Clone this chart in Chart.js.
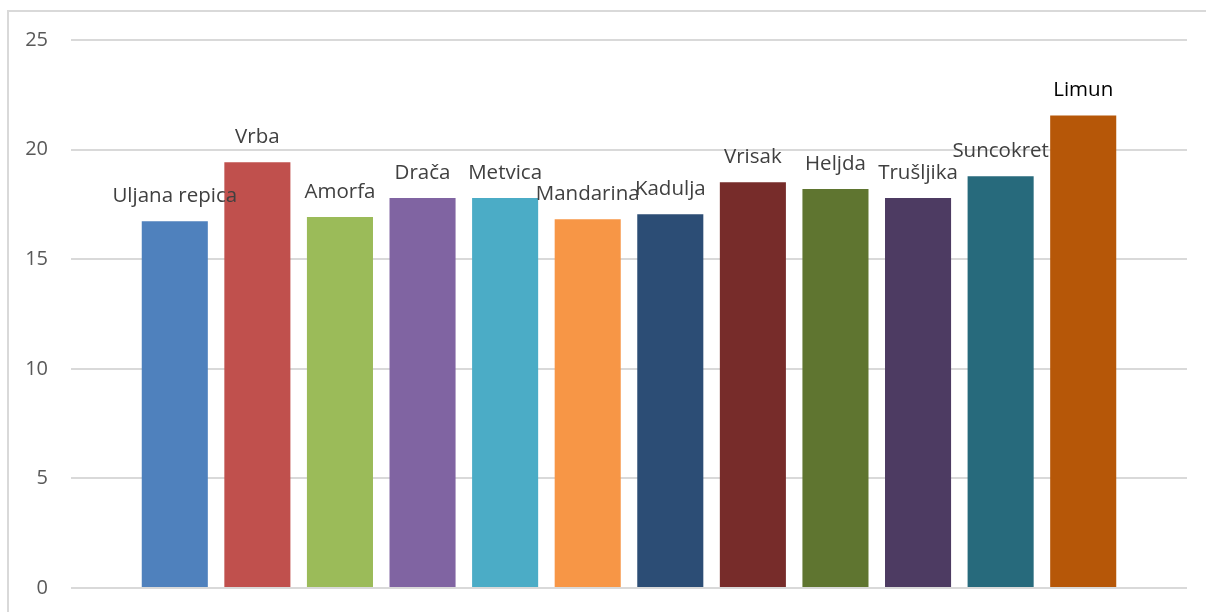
<!DOCTYPE html>
<html>
<head>
<meta charset="utf-8">
<script src="https://cdn.jsdelivr.net/npm/chart.js@4/dist/chart.umd.min.js"></script>
<style>
  html, body { margin: 0; padding: 0; background: #fff; }
  #wrap { width: 1206px; height: 612px; overflow: hidden; }
</style>
</head>
<body>
<div id="wrap"><canvas id="chart" width="1206" height="623"></canvas></div>
<script>
// --- data ---
var plants = ['Uljana repica', 'Vrba', 'Amorfa', 'Drača', 'Metvica', 'Mandarina',
              'Kadulja', 'Vrisak', 'Heljda', 'Trušljika', 'Suncokret', 'Limun'];
var values = [16.73, 19.42, 16.92, 17.79, 17.79, 16.82, 17.05, 18.51, 18.2, 17.79, 18.78, 21.56];
var barColors = ['#4F81BD', '#C0504D', '#9BBB59', '#8064A2', '#4BACC6', '#F79646',
                 '#2C4D75', '#772C2A', '#5F7530', '#4D3B62', '#276A7C', '#B65708'];
var labelColors = ['#404040', '#404040', '#404040', '#404040', '#404040', '#404040',
                   '#404040', '#404040', '#404040', '#404040', '#404040', '#000000'];
var yTicks = [0, 5, 10, 15, 20, 25];

var FONT = '"Open Sans", "Noto Sans", sans-serif';

// each plant is its own series in a single category (Excel style)
var datasets = plants.map(function(name, i) {
  return {
    label: name,
    data: [values[i]],
    backgroundColor: barColors[i],
    borderWidth: 0,
    categoryPercentage: 0.888,
    barPercentage: 0.8
  };
});

// outer frame of the chart box
var framePlugin = {
  id: 'frame',
  beforeDraw: function(chart) {
    var ctx = chart.ctx;
    ctx.save();
    ctx.strokeStyle = '#d9d9d9';
    ctx.lineWidth = 2;
    ctx.strokeRect(8, 11, 1300, 700);
    ctx.restore();
  }
};

// series names written above each bar
var nameLabels = {
  id: 'nameLabels',
  afterDatasetsDraw: function(chart) {
    var ctx = chart.ctx;
    ctx.save();
    ctx.font = '20.5px ' + FONT;
    ctx.textAlign = 'center';
    ctx.textBaseline = 'alphabetic';
    chart.data.datasets.forEach(function(ds, i) {
      var bar = chart.getDatasetMeta(i).data[0];
      if (!bar) return;
      ctx.fillStyle = labelColors[i];
      ctx.fillText(ds.label, bar.x, bar.y - 19);
    });
    ctx.restore();
  }
};

new Chart(document.getElementById('chart'), {
  type: 'bar',
  data: { labels: [''], datasets: datasets },
  options: {
    responsive: false,
    animation: false,
    layout: { padding: { top: 40, bottom: 24, left: 0, right: 19 } },
    plugins: {
      legend: { display: false },
      tooltip: { enabled: false }
    },
    scales: {
      x: { display: false },
      y: {
        min: 0,
        max: 25,
        afterBuildTicks: function(axis) {
          axis.ticks = yTicks.map(function(v) { return { value: v }; });
        },
        afterFit: function(axis) { axis.width = 71; },
        border: { display: false },
        grid: { color: '#d9d9d9', lineWidth: 2, drawTicks: false },
        ticks: {
          padding: 23,
          color: '#595959',
          font: { family: FONT, size: 20 }
        }
      }
    }
  },
  plugins: [framePlugin, nameLabels]
});
</script>
</body>
</html>
